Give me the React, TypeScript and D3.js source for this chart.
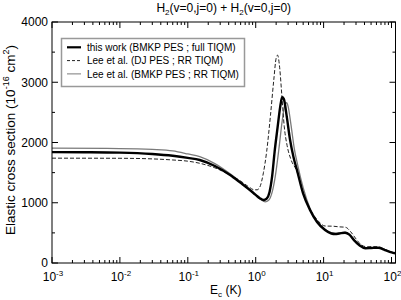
import * as d3 from 'd3';

const energyThisWork = [0.001, 0.003, 0.01, 0.03, 0.06, 0.1, 0.15, 0.25, 0.42, 0.6, 0.82, 1.0, 1.15, 1.31, 1.45, 1.6, 1.75, 1.9, 2.1, 2.3, 2.45, 2.6, 2.85, 3.2, 3.6, 4.05, 5.0, 6.3, 8, 10.5, 13, 14.8, 17, 20.7, 24, 28, 34, 41, 50, 64, 80, 100, 114];
const sigmaThisWork = [1840, 1838, 1832, 1810, 1780, 1745, 1710, 1610, 1460, 1330, 1212, 1130, 1075, 1046, 1070, 1180, 1450, 1850, 2250, 2600, 2750, 2720, 2450, 2050, 1760, 1543, 1150, 880, 680, 548, 490, 481, 490, 503, 470, 380, 290, 244, 248, 254, 215, 175, 161];

const energyLeeDJ = [0.001, 0.01, 0.03, 0.06, 0.1, 0.15, 0.25, 0.42, 0.6, 0.8, 0.95, 1.05, 1.15, 1.3, 1.45, 1.65, 1.85, 2.0, 2.1, 2.25, 2.42, 2.63, 2.9, 3.3, 4.05, 5.0, 6.3, 8, 10.5, 14, 17, 21, 25, 30, 36, 43, 55, 66, 80, 100, 114];
const sigmaLeeDJ = [1740, 1738, 1728, 1710, 1690, 1655, 1580, 1460, 1360, 1260, 1215, 1215, 1260, 1500, 1850, 2450, 3050, 3400, 3450, 3250, 2800, 2270, 1950, 1720, 1520, 1170, 900, 720, 614, 610, 600, 593, 520, 400, 300, 270, 272, 268, 225, 180, 163];

const energyLeeBMKP = [0.001, 0.01, 0.03, 0.06, 0.1, 0.15, 0.25, 0.42, 0.6, 0.82, 1.0, 1.2, 1.38, 1.55, 1.75, 1.95, 2.2, 2.45, 2.65, 2.85, 3.0, 3.3, 3.7, 4.2, 5.0, 6.3, 8, 10.5, 14.8, 20.7, 28, 41, 64, 100, 114];
const sigmaLeeBMKP = [1905, 1900, 1885, 1860, 1810, 1765, 1650, 1480, 1345, 1215, 1130, 1050, 1015, 1040, 1180, 1450, 1900, 2350, 2600, 2660, 2600, 2300, 1900, 1600, 1250, 910, 700, 560, 490, 510, 385, 250, 255, 180, 165];

const yTicks = [0, 1000, 2000, 3000, 4000];
const yMinorTicks = [500, 1500, 2500, 3500];
const xDecades = [-3, -2, -1, 0, 1, 2];
const legendLabels = [
  'this work (BMKP PES ; full TIQM)',
  'Lee et al. (DJ PES ; RR TIQM)',
  'Lee et al. (BMKP PES ; RR TIQM)',
];

const W = 401, H = 300;
const left = 52, right = 395.5, top = 22, bottom = 263;
const font = 'Liberation Sans, Arial, Helvetica, sans-serif';

export default function App() {
  const x = d3.scaleLog().domain([1e-3, 114.5]).range([left, right]);
  const y = d3.scaleLinear().domain([0, 4000]).range([bottom, top]);

  const line = d3.line<[number, number]>()
    .x((d) => x(d[0]))
    .y((d) => y(d[1]))
    .curve(d3.curveMonotoneX);

  const zip = (e: number[], s: number[]) => e.map((v, i) => [v, s[i]] as [number, number]);

  const xMinor: number[] = [];
  xDecades.slice(0, -1).forEach((p) => {
    for (let k = 2; k <= 9; k++) xMinor.push(k * Math.pow(10, p));
  });

  const styles = [
    { stroke: '#000', width: 2.4, dash: undefined as string | undefined },
    { stroke: '#222', width: 1, dash: '4,2' },
    { stroke: '#7a7a7a', width: 1.3, dash: undefined },
  ];
  const series = [
    zip(energyThisWork, sigmaThisWork),
    zip(energyLeeDJ, sigmaLeeDJ),
    zip(energyLeeBMKP, sigmaLeeBMKP),
  ];

  return (
    <svg width={W} height={H} style={{ position: 'absolute', left: 0, top: 0, background: '#fff' }} fontFamily={font}>
      <defs>
        <clipPath id="plot">
          <rect x={left} y={top} width={right - left} height={bottom - top} />
        </clipPath>
      </defs>

      <text x={(left + right) / 2} y={12} textAnchor="middle" fontSize={12}>
        H<tspan fontSize={8} dy={3}>2</tspan><tspan dy={-3}>(v=0,j=0) + H</tspan>
        <tspan fontSize={8} dy={3}>2</tspan><tspan dy={-3}>(v=0,j=0)</tspan>
      </text>

      {/* series, drawn back to front */}
      <g clipPath="url(#plot)" fill="none">
        {[2, 1, 0].map((i) => (
          <path key={i} d={line(series[i]) || ''} stroke={styles[i].stroke}
            strokeWidth={styles[i].width} strokeDasharray={styles[i].dash} />
        ))}
      </g>

      {/* frame */}
      <rect x={left} y={top} width={right - left} height={bottom - top} fill="none" stroke="#000" strokeWidth={1} />

      {/* x ticks, bottom and top */}
      <g stroke="#000" strokeWidth={1}>
        {xDecades.map((p) => {
          const px = x(Math.pow(10, p));
          return (
            <g key={p}>
              <line x1={px} x2={px} y1={bottom} y2={bottom - 6} />
              <line x1={px} x2={px} y1={top} y2={top + 6} />
            </g>
          );
        })}
        {xMinor.map((v) => (
          <g key={v}>
            <line x1={x(v)} x2={x(v)} y1={bottom} y2={bottom - 3} />
            <line x1={x(v)} x2={x(v)} y1={top} y2={top + 3} />
          </g>
        ))}
        {yTicks.map((v) => (
          <g key={v}>
            <line x1={left} x2={left + 6} y1={y(v)} y2={y(v)} />
            <line x1={right} x2={right - 6} y1={y(v)} y2={y(v)} />
          </g>
        ))}
        {yMinorTicks.map((v) => (
          <g key={v}>
            <line x1={left} x2={left + 3} y1={y(v)} y2={y(v)} />
            <line x1={right} x2={right - 3} y1={y(v)} y2={y(v)} />
          </g>
        ))}
      </g>

      {/* tick labels */}
      {xDecades.map((p) => (
        <text key={p} x={x(Math.pow(10, p)) + 1} y={281} textAnchor="middle" fontSize={12}>
          10<tspan fontSize={8} dy={-5}>{p}</tspan>
        </text>
      ))}
      {yTicks.map((v) => (
        <text key={v} x={48} y={y(v) + 4.3} textAnchor="end" fontSize={12}>{v}</text>
      ))}

      {/* axis titles */}
      <text x={(left + right) / 2 + 2} y={294} textAnchor="middle" fontSize={12}>
        E<tspan fontSize={8} dy={3}>c</tspan><tspan dy={-3}> (K)</tspan>
      </text>
      <text transform={`translate(15,140) rotate(-90)`} textAnchor="middle" fontSize={13.5}>
        Elastic cross section (10<tspan fontSize={9} dy={-6}>-16</tspan>
        <tspan dy={6}> cm</tspan><tspan fontSize={9} dy={-6}>2</tspan><tspan dy={6}>)</tspan>
      </text>

      {/* legend */}
      <rect x={61.5} y={38.5} width={183} height={48} fill="#fff" stroke="#999" strokeWidth={1.5} />
      {legendLabels.map((label, i) => {
        const ly = 47.3 + i * 13.3;
        return (
          <g key={label}>
            <line x1={67} x2={81} y1={ly} y2={ly} stroke={styles[i].stroke}
              strokeWidth={i === 0 ? 2.2 : 1} strokeDasharray={i === 1 ? '3,2' : undefined} />
            <text x={87} y={ly + 3.6} fontSize={10}>{label}</text>
          </g>
        );
      })}
    </svg>
  );
}
